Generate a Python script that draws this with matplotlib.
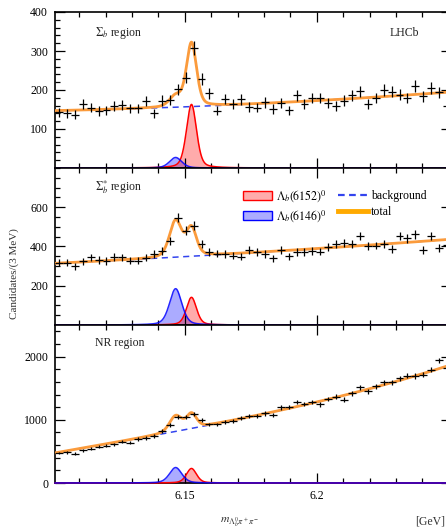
import numpy as np
import matplotlib
matplotlib.use('Agg')
import matplotlib.pyplot as plt
from matplotlib.ticker import MultipleLocator, FixedLocator
from matplotlib.patches import Patch
from matplotlib.lines import Line2D

plt.rcParams['font.family'] = ['Liberation Serif', 'DejaVu Serif']
plt.rcParams['mathtext.fontset'] = 'stix'

# ---------------- data ----------------
mass_lo = 6.1008
mass_hi = 6.2508
bin_width = 0.003

region_labels = [r'$\Sigma_b$ region', r'$\Sigma_b^{*}$ region', 'NR region']

top_counts = [143, 140, 137, 164, 155, 146, 148, 158, 161, 153, 153, 172, 140, 173, 174,
              202, 232, 307, 228, 192, 147, 177, 163, 176, 157, 155, 168, 152, 167, 148,
              186, 164, 180, 180, 166, 160, 173, 186, 197, 164, 180, 200, 196, 188, 180,
              210, 184, 205, 194, 158]
mid_counts = [316, 318, 299, 325, 345, 331, 326, 347, 345, 328, 328, 343, 361, 376, 426,
              546, 481, 505, 414, 373, 364, 361, 354, 349, 381, 371, 361, 340, 381, 350,
              371, 371, 378, 374, 398, 412, 419, 414, 452, 402, 405, 414, 388, 452, 441,
              462, 381, 453, 393, 407]
bot_counts = [476, 487, 466, 518, 540, 577, 587, 614, 656, 640, 698, 714, 741, 825, 915,
              1042, 1037, 1095, 1000, 926, 926, 963, 984, 1026, 1058, 1063, 1100, 1074, 1196, 1201,
              1285, 1248, 1285, 1243, 1328, 1365, 1317, 1418, 1518, 1449, 1534, 1592, 1592, 1656, 1698,
              1693, 1714, 1793, 1941, 1814]

# fit-model parameters
state_names = [r'$\Lambda_b(6152)^0$', r'$\Lambda_b(6146)^0$']
state_mass = [6.1525, 6.1465]      # GeV
state_fwhm = [0.0045, 0.0055]      # GeV
red_amp = [163, 141, 230]          # Lambda_b(6152) peak height per panel
blue_amp = [27, 185, 245]          # Lambda_b(6146) peak height per panel
bkg_coef = [[147, 21, 27, 0],      # background polynomial in t=(m-mlo)/(mhi-mlo)
            [314, 96, 27, 0],
            [476, 1097, -36, 333]]

y_limits = [400, 800, 2500]
y_major = [[100, 200, 300, 400], [200, 400, 600], [0, 1000, 2000]]
y_minor = [20, 50, 200]

# ---------------- helpers ----------------
def shape(x, m, fwhm, eta=0.35):
    d = (x - m) / (fwhm / 2.0)
    return eta / (1 + d ** 2) + (1 - eta) * np.exp(-np.log(2) * d ** 2)

def background(x, c):
    t = (x - mass_lo) / (mass_hi - mass_lo)
    return c[0] + c[1] * t + c[2] * t ** 2 + c[3] * t ** 3

edges = mass_lo + bin_width * np.arange(len(top_counts) + 1)
centers = 0.5 * (edges[:-1] + edges[1:])
xf = np.linspace(mass_lo, mass_hi, 1500)

W, H = 446, 530
fig = plt.figure(figsize=(W / 100, H / 100), dpi=100)
left = 55 / W
width = 396 / W
panel_px = [(12, 168), (168, 325), (325, 483)]

ORANGE = '#fb9b3c'
RED = '#ff0000'
BLUE = '#0000ff'
BKG = '#3344ee'

all_counts = [top_counts, mid_counts, bot_counts]
axes = []
for i, (ytop, ybot) in enumerate(panel_px):
    ax = fig.add_axes([left, 1 - ybot / H, width, (ybot - ytop) / H])
    axes.append(ax)
    counts = np.array(all_counts[i], dtype=float)

    red = red_amp[i] * shape(xf, state_mass[0], state_fwhm[0])
    blue = blue_amp[i] * shape(xf, state_mass[1], state_fwhm[1])
    bkg = background(xf, bkg_coef[i])
    total = bkg + red + blue

    ax.fill_between(xf, 0, blue, color=BLUE, alpha=0.33, lw=0, zorder=1)
    ax.fill_between(xf, 0, red, color=RED, alpha=0.33, lw=0, zorder=1)
    ax.plot(xf, red, color=RED, lw=1.1, zorder=3, clip_on=False)
    ax.plot(xf, blue, color=BLUE, lw=1.1, zorder=3, clip_on=False, alpha=0.85)
    ax.plot(xf, bkg, color=BKG, lw=1.1, ls=(0, (4, 3)), zorder=2)
    ax.plot(xf, total, color=ORANGE, lw=2.0, zorder=3)
    ax.errorbar(centers, counts, xerr=bin_width / 2, yerr=np.sqrt(counts), fmt='none',
                ecolor='black', elinewidth=0.9, capsize=0, zorder=4)

    ax.set_xlim(mass_lo, mass_hi)
    ax.set_ylim(0, y_limits[i])
    ax.yaxis.set_major_locator(FixedLocator(y_major[i]))
    ax.yaxis.set_minor_locator(MultipleLocator(y_minor[i]))
    ax.xaxis.set_major_locator(FixedLocator([6.15, 6.2]))
    ax.xaxis.set_minor_locator(MultipleLocator(0.01))
    ax.tick_params(which='both', direction='in', top=True, right=True, labelsize=8.5,
                   width=0.9, colors='black')
    ax.tick_params(which='major', length=7, pad=5)
    ax.tick_params(which='minor', length=3.5)
    for s in ax.spines.values():
        s.set_linewidth(1.2)
    if i < 2:
        ax.set_xticklabels([])
    else:
        ax.set_xticklabels(['6.15', '6.2'])

    ax.text((95 - left * W) / 396, [0.865, 0.88, 0.884][i], region_labels[i],
            transform=ax.transAxes, fontsize=8.5, va='center', ha='left', color='#222222')

axes[0].text(0.881, 0.865, 'LHCb', transform=axes[0].transAxes, fontsize=8.5,
             va='center', ha='center', color='#222222')

handles = [Patch(facecolor=(1, 0, 0, 0.33), edgecolor=RED, lw=1.0),
           Patch(facecolor=(0, 0, 1, 0.33), edgecolor=BLUE, lw=1.0),
           Line2D([], [], color=BKG, lw=1.6, ls=(0, (3, 2))),
           Line2D([], [], color='#ffaa00', lw=3.5)]
labels = [state_names[0], state_names[1], 'background', 'total']
axes[1].legend(handles, labels, ncol=2, frameon=False, fontsize=8.5,
               loc='upper left', bbox_to_anchor=(0.462, 0.905),
               handlelength=2.5, handleheight=0.8, handletextpad=0.3,
               columnspacing=1.0, labelspacing=0.35, borderaxespad=0)

fig.text(14 / W, 1 - 274 / H, 'Candidates/(3 MeV)', rotation=90, fontsize=8,
         ha='center', va='center', color='#333333')
fig.text(240 / W, 1 - 522 / H, r'$m_{\Lambda_b^0\pi^+\pi^-}$', fontsize=8.5,
         ha='center', va='center', color='#333333')
fig.text(430 / W, 1 - 521 / H, '[GeV]', fontsize=8.5, ha='center', va='center',
         color='#333333')

fig.savefig('out.png', dpi=100)
